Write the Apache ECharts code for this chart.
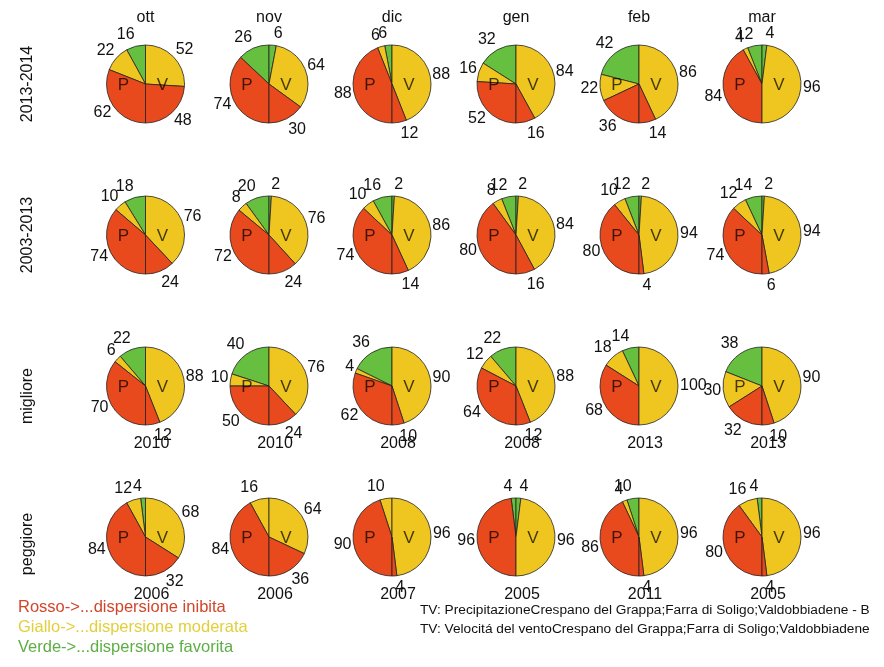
<!DOCTYPE html>
<html><head><meta charset="utf-8">
<script src="https://cdn.jsdelivr.net/npm/echarts@6/dist/echarts.min.js"></script>
<style>html,body{margin:0;padding:0;background:#fff}#c{width:884px;height:667px}</style>
</head><body><div id="c"></div>
<script>
// ---- data ----
const months = ['ott', 'nov', 'dic', 'gen', 'feb', 'mar'];
const rowLabels = ['2013-2014', '2003-2013', 'migliore', 'peggiore'];
// each entry: [verde, giallo, rosso]
const P_2013_2014 = [[16,22,62],[26,0,74],[6,6,88],[32,16,52],[42,22,36],[12,4,84]];
const V_2013_2014 = [[0,52,48],[6,64,30],[0,88,12],[0,84,16],[0,86,14],[4,96,0]];
const P_2003_2013 = [[18,10,74],[20,8,72],[16,10,74],[12,8,80],[12,10,80],[14,12,74]];
const V_2003_2013 = [[0,76,24],[2,76,24],[2,86,14],[2,84,16],[2,94,4],[2,94,6]];
const P_migliore = [[22,6,70],[40,10,50],[36,4,62],[22,12,64],[14,18,68],[38,30,32]];
const V_migliore = [[0,88,12],[0,76,24],[0,90,10],[0,88,12],[0,100,0],[0,90,10]];
const P_peggiore = [[4,12,84],[0,16,84],[0,10,90],[4,0,96],[10,4,86],[4,16,80]];
const V_peggiore = [[0,68,32],[0,64,36],[0,96,4],[4,96,0],[0,96,4],[0,96,4]];
const years_migliore = ['2010','2010','2008','2008','2013','2013'];
const years_peggiore = ['2006','2006','2007','2005','2011','2005'];
const legendTexts = ['Rosso->...dispersione inibita', 'Giallo->...dispersione moderata', 'Verde->...dispersione favorita'];
const sourceTexts = ['TV: PrecipitazioneCrespano del Grappa;Farra di Soligo;Valdobbiadene - B',
                     'TV: Velocitá del ventoCrespano del Grappa;Farra di Soligo;Valdobbiadene'];

// ---- style / layout ----
const FONT = "'Liberation Sans', Arial, sans-serif";
const COLORS = ['#66BF3F', '#EEC61F', '#E8491D']; // verde, giallo, rosso
const cxs = [145.5, 269, 392, 516, 639, 762];
const cys = [84, 235, 386, 537];
const RAD = 39;

const Ps = [P_2013_2014, P_2003_2013, P_migliore, P_peggiore];
const Vs = [V_2013_2014, V_2003_2013, V_migliore, V_peggiore];
const yearRows = {2: years_migliore, 3: years_peggiore};

const series = [];
const centers = [];
function half(vals, clockwise, center) {
  const data = [];
  let sum = 0;
  vals.forEach((v, i) => {
    if (v > 0) { data.push({value: v, itemStyle: {color: COLORS[i]}}); sum += v; }
  });
  data.push({value: sum, itemStyle: {color: 'rgba(0,0,0,0)', borderWidth: 0},
             label: {show: false}, labelLine: {show: false}, emphasis: {disabled: true}});
  centers.push(center);
  return {
    type: 'pie', center: center, radius: RAD, startAngle: 90, clockwise: clockwise,
    avoidLabelOverlap: false, silent: true, animation: false, z: 2,
    itemStyle: {borderColor: '#222', borderWidth: 0.8},
    label: {show: true, position: 'outside', formatter: '{c}', fontFamily: FONT, fontSize: 16,
            color: '#111', distanceToLabelLine: 1},
    labelLine: {show: false, length: 1, length2: 0},
    labelLayout: function (p) {
      const c = centers[p.seriesIndex];
      const my = p.labelRect.y + p.labelRect.height / 2 - c[1];
      return {dy: my * 0.27};
    },
    data: data
  };
}

const graphics = [];
function txt(x, y, s, opts) {
  graphics.push({type: 'text', x: x, y: y, silent: true, z: 100,
    style: Object.assign({text: s, fill: '#111', font: '16px ' + FONT, textAlign: 'center', textVerticalAlign: 'middle'}, opts || {})});
}

for (let r = 0; r < 4; r++) {
  for (let c = 0; c < 6; c++) {
    const center = [cxs[c], cys[r]];
    series.push(half(Ps[r][c], false, center));
    series.push(half(Vs[r][c], true, center));
    txt(cxs[c] - 22, cys[r] + 1, 'P', {fill: 'rgba(0,0,0,0.72)', font: '17px ' + FONT});
    txt(cxs[c] + 17, cys[r] + 1, 'V', {fill: 'rgba(0,0,0,0.72)', font: '17px ' + FONT});
    if (yearRows[r]) txt(cxs[c] + 6, cys[r] + 58, yearRows[r][c]);
  }
}
months.forEach((m, c) => txt(cxs[c], 18, m));
const rowY = [84, 235, 396, 544];
rowLabels.forEach((l, r) => graphics.push({type: 'text', x: 27.5, y: rowY[r], rotation: Math.PI / 2, silent: true, z: 100,
  style: {text: l, fill: '#111', font: '16px ' + FONT, textAlign: 'center', textVerticalAlign: 'middle'}}));
const legendColors = ['#D2452A', '#E2CF3C', '#5DAE45'];
legendTexts.forEach((t, i) => txt(18, 607.5 + i * 20, t, {textAlign: 'left', fill: legendColors[i], font: '16.5px ' + FONT}));
sourceTexts.forEach((t, i) => txt(420, 610 + i * 19, t, {textAlign: 'left', font: '13.7px ' + FONT}));

const chart = echarts.init(document.getElementById('c'), null, {renderer: 'canvas'});
chart.setOption({backgroundColor: '#fff', animation: false, series: series, graphic: {elements: graphics}});
</script></body></html>
